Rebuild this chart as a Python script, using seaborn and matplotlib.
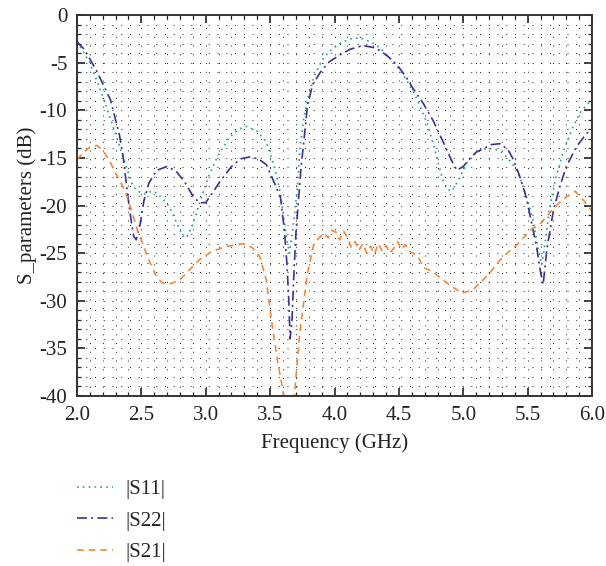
import numpy as np
import pandas as pd
import matplotlib
matplotlib.use("Agg")
import matplotlib.pyplot as plt
from matplotlib.ticker import MultipleLocator, FormatStrFormatter
import seaborn as sns

# ---------------- data ----------------
f_s11 = [2.00, 2.10, 2.20, 2.30, 2.37, 2.42, 2.46, 2.52, 2.58, 2.62, 2.68, 2.72, 2.78,
         2.82, 2.85, 2.90, 2.96, 3.02, 3.09, 3.18, 3.25, 3.32, 3.40, 3.47, 3.53, 3.58,
         3.63, 3.65, 3.68, 3.71, 3.73, 3.76, 3.79, 3.84, 3.90, 3.96, 4.04, 4.12, 4.20,
         4.28, 4.35, 4.41, 4.48, 4.56, 4.64, 4.72, 4.78, 4.84, 4.88, 4.91, 4.96, 5.03,
         5.10, 5.18, 5.25, 5.31, 5.38, 5.44, 5.50, 5.54, 5.58, 5.61, 5.64, 5.67, 5.72,
         5.78, 5.85, 5.91, 6.00]
s11 = [-2.8, -5.0, -8.5, -12.5, -15.4, -17.5, -18.4, -18.8, -18.5, -18.7, -19.5, -20.2, -22.0,
       -23.2, -23.4, -22.0, -19.4, -17.0, -14.9, -12.9, -12.0, -11.7, -12.2, -13.3, -15.8, -18.7,
       -23.6, -25.0, -22.0, -18.4, -14.2, -11.0, -8.9, -6.5, -4.8, -3.8, -3.0, -2.5, -2.4,
       -2.8, -3.4, -4.2, -5.3, -6.8, -8.8, -11.4, -14.2, -17.3, -18.3, -18.5, -17.4, -15.5,
       -14.4, -14.0, -14.1, -14.5, -15.6, -17.0, -19.5, -21.4, -24.5, -26.2, -23.5, -20.3, -17.0,
       -14.2, -11.8, -10.2, -8.8]

f_s22 = [2.00, 2.05, 2.10, 2.15, 2.20, 2.26, 2.30, 2.33, 2.36, 2.39, 2.42, 2.44, 2.46, 2.49,
         2.52, 2.56, 2.62, 2.70, 2.77, 2.84, 2.90, 2.95, 3.00, 3.05, 3.12, 3.20, 3.27, 3.34,
         3.41, 3.47, 3.52, 3.56, 3.58, 3.61, 3.63, 3.645, 3.655, 3.67, 3.685, 3.70, 3.72,
         3.74, 3.76, 3.79, 3.83, 3.89, 3.96, 4.04, 4.12, 4.22, 4.30, 4.35, 4.42, 4.49, 4.55,
         4.61, 4.69, 4.77, 4.85, 4.91, 4.95, 5.00, 5.05, 5.10, 5.16, 5.22, 5.29, 5.35, 5.39,
         5.44, 5.49, 5.53, 5.57, 5.60, 5.62, 5.65, 5.70, 5.75, 5.80, 5.88, 5.96, 6.00]
s22 = [-2.8, -3.5, -4.6, -5.8, -7.2, -8.9, -11.0, -12.6, -15.0, -18.5, -21.5, -23.2, -23.6, -22.0,
       -19.5, -17.6, -16.3, -15.9, -16.4, -17.6, -19.0, -19.7, -19.7, -18.7, -17.3, -15.9, -15.1, -14.9,
       -15.1, -15.7, -17.2, -18.5, -19.1, -22.5, -26.0, -30.0, -34.0, -32.0, -27.0, -23.0, -19.5,
       -16.0, -13.5, -9.5, -7.3, -6.0, -4.9, -4.2, -3.6, -3.2, -3.4, -3.7, -4.4, -5.3, -6.4,
       -7.7, -9.3, -11.2, -13.5, -15.3, -16.3, -15.9, -15.1, -14.4, -14.0, -13.6, -13.5, -14.2, -15.2,
       -17.0, -19.2, -21.8, -24.4, -27.0, -28.3, -24.5, -20.5, -18.0, -15.9, -13.8, -12.4, -12.0]

f_s21 = [2.00, 2.05, 2.10, 2.155, 2.20, 2.25, 2.30, 2.35, 2.39, 2.43, 2.47, 2.51, 2.56, 2.62,
         2.66, 2.70, 2.75, 2.80, 2.87, 2.95, 3.05, 3.16, 3.29, 3.36, 3.42, 3.47, 3.52, 3.56,
         3.60, 3.62, 3.645, 3.67, 3.69, 3.73, 3.79, 3.84, 3.88, 3.92, 3.95, 3.98, 4.01, 4.04,
         4.07, 4.10, 4.13, 4.16, 4.19, 4.22, 4.25, 4.28, 4.31, 4.34, 4.37, 4.40, 4.43, 4.46,
         4.49, 4.52, 4.55, 4.58, 4.61, 4.65, 4.69, 4.77, 4.83, 4.90, 4.99, 5.07, 5.14, 5.21,
         5.28, 5.34, 5.42, 5.52, 5.60, 5.67, 5.73, 5.80, 5.87, 5.93, 6.00]
s21 = [-15.2, -14.4, -13.9, -13.7, -14.2, -15.2, -16.6, -17.8, -19.1, -20.8, -22.6, -24.0, -25.8, -27.5,
       -28.1, -28.3, -28.1, -27.8, -26.8, -25.7, -24.8, -24.3, -24.0, -24.4, -25.4, -27.8, -33.0, -36.5,
       -39.5, -41.5, -43.0, -41.5, -39.7, -33.4, -27.1, -24.0, -23.4, -22.9, -23.4, -22.6, -22.8, -23.6,
       -22.7, -23.3, -24.4, -23.8, -24.7, -24.0, -25.0, -24.3, -25.1, -24.0, -24.8, -24.2, -25.0, -24.5,
       -23.8, -24.6, -24.1, -24.8, -25.0, -25.4, -26.5, -27.0, -27.7, -28.4, -29.2, -28.9, -28.0, -27.0,
       -25.8, -25.0, -24.1, -22.6, -21.9, -20.8, -19.9, -19.1, -18.5, -19.4, -20.6]

labels = ["|S11|", "|S22|", "|S21|"]
x_ticks = [2.0, 2.5, 3.0, 3.5, 4.0, 4.5, 5.0, 5.5, 6.0]
y_ticks = [0, -5, -10, -15, -20, -25, -30, -35, -40]

# ---------------- style ----------------
sns.set_theme(style="white")
plt.rcParams["font.family"] = ["Liberation Serif", "DejaVu Serif"]

fig = plt.figure(figsize=(6.06, 5.66), dpi=100)
ax = fig.add_axes([0.127, 0.3004, 0.85, 0.673])

c11 = "#1fa39a"
c22 = "#3b3096"
c21 = "#f4873a"

sns.lineplot(x=f_s11, y=s11, ax=ax, color=c11, lw=1.2, sort=False,
             linestyle=(0, (1, 2.5)), label=labels[0])
sns.lineplot(x=f_s22, y=s22, ax=ax, color=c22, lw=1.2, sort=False,
             linestyle=(0, (6, 2.5, 1.2, 2.5)), label=labels[1])
sns.lineplot(x=f_s21, y=s21, ax=ax, color=c21, lw=1.2, sort=False,
             linestyle=(0, (4, 3)), label=labels[2])

ax.set_xlim(2.0, 6.0)
ax.set_ylim(-40, 0)
ax.set_xticks(x_ticks)
ax.set_yticks(y_ticks)
ax.xaxis.set_major_formatter(FormatStrFormatter("%.1f"))
ax.yaxis.set_major_formatter(FormatStrFormatter("%d"))
ax.xaxis.set_minor_locator(MultipleLocator(0.1))
ax.yaxis.set_minor_locator(MultipleLocator(1))

ax.grid(which="both", color="#222222", linestyle=(0, (1, 8)), linewidth=0.7)
ax.set_axisbelow(True)

FS = 15
ax.tick_params(which="both", direction="in", top=True, right=True,
               bottom=True, left=True, colors="#222222", labelcolor="#222222")
ax.tick_params(which="major", length=6, width=1.2, labelsize=FS, pad=7)
ax.tick_params(which="minor", length=3, width=0.9)

for s in ax.spines.values():
    s.set_color("#333333")
    s.set_linewidth(1.4)

ax.set_xlabel("Frequency (GHz)", fontsize=FS, color="#222222", labelpad=6)
ax.set_ylabel("S_parameters (dB)", fontsize=FS, color="#222222", labelpad=2)

handles, labs = ax.get_legend_handles_labels()
ax.get_legend().remove()
fig.legend(handles, labs, loc="upper left", bbox_to_anchor=(0.127, 0.153),
           frameon=False, fontsize=FS, handlelength=1.75, handletextpad=0.55,
           labelspacing=0.58, borderpad=0, borderaxespad=0)

fig.savefig("out.png", dpi=100)
